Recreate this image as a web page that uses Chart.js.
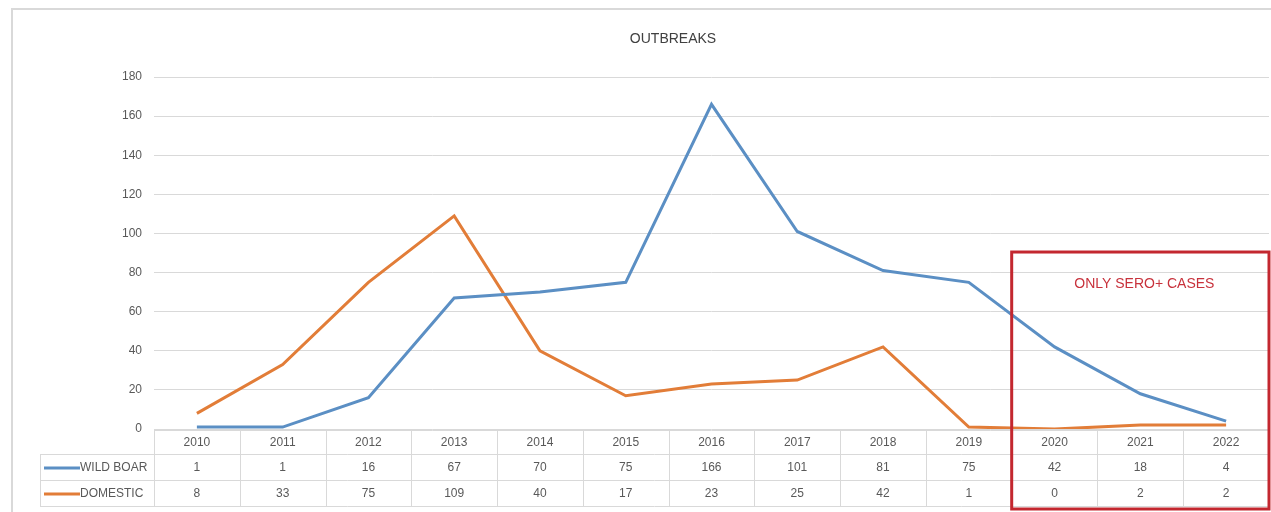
<!DOCTYPE html>
<html>
<head>
<meta charset="utf-8">
<title>Outbreaks</title>
<script src="https://cdn.jsdelivr.net/npm/chart.js@4/dist/chart.umd.min.js"></script>
<style>
    html, body { margin: 0; padding: 0; background: #fff; }
    #wrap { width: 1271px; height: 512px; position: relative; }
</style>
</head>
<body>
<div id="wrap"><canvas id="outbreaksChart"></canvas></div>
<script>
const years = ['2010', '2011', '2012', '2013', '2014', '2015', '2016', '2017', '2018', '2019', '2020', '2021', '2022'];
const wildBoar = [1, 1, 16, 67, 70, 75, 166, 101, 81, 75, 42, 18, 4];
const domestic = [8, 33, 75, 109, 40, 17, 23, 25, 42, 1, 0, 2, 2];
const seriesNames = ['WILD BOAR', 'DOMESTIC'];
const yMin = 0;
const yMax = 180;
const yStep = 20;
const chartTitle = 'OUTBREAKS';
const noteText = 'ONLY SERO+ CASES';
const noteFirstYear = '2020';

const BLUE = '#5b8fc4';
const ORANGE = '#e27d38';
const GRID = '#d9d9d9';
const TEXT = '#595959';
const RED = '#c3272f';
const FONT = "'Liberation Sans', Arial, sans-serif";

Chart.defaults.font.family = FONT;

// frame around the whole chart + title (excel puts it a bit left of the plot centre)
const framePlugin = {
    id: 'frame',
    beforeDraw(chart) {
        const ctx = chart.ctx;
        ctx.save();
        ctx.strokeStyle = GRID;
        ctx.lineWidth = 2;
        ctx.strokeRect(12, 9, chart.width + 20, chart.height + 20);
        ctx.fillStyle = '#404040';
        ctx.font = '14px ' + FONT;
        ctx.textAlign = 'center';
        ctx.textBaseline = 'middle';
        ctx.fillText(chartTitle, 673, 39);
        ctx.restore();
    }
};

// data table under the plot + the red "sero+" box
const tablePlugin = {
    id: 'dataTable',
    afterDraw(chart) {
        const ctx = chart.ctx;
        const area = chart.chartArea;
        const x = chart.scales.x;
        const y = chart.scales.y;
        const n = years.length;
        const colW = (area.right - area.left) / n;
        const top = area.bottom + 1;
        const rowTops = [top, top + 24, top + 50, top + 76];
        const legendLeft = 40;

        ctx.save();
        ctx.strokeStyle = GRID;
        ctx.lineWidth = 1;
        ctx.beginPath();
        ctx.moveTo(area.left, rowTops[0] + 0.5);
        ctx.lineTo(area.right, rowTops[0] + 0.5);
        for (let r = 1; r < rowTops.length; r++) {
            ctx.moveTo(legendLeft, rowTops[r] + 0.5);
            ctx.lineTo(area.right, rowTops[r] + 0.5);
        }
        ctx.moveTo(legendLeft + 0.5, rowTops[1]);
        ctx.lineTo(legendLeft + 0.5, rowTops[3]);
        for (let i = 0; i <= n; i++) {
            const bx = Math.round(area.left + i * colW) + 0.5;
            ctx.moveTo(bx, rowTops[0]);
            ctx.lineTo(bx, rowTops[3]);
        }
        ctx.stroke();

        ctx.fillStyle = TEXT;
        ctx.font = '12px ' + FONT;
        ctx.textAlign = 'center';
        ctx.textBaseline = 'middle';
        const rows = [years, wildBoar, domestic];
        rows.forEach((vals, r) => {
            const cy = (rowTops[r] + rowTops[r + 1]) / 2 + 1;
            vals.forEach((v, i) => {
                ctx.fillText(String(v), x.getPixelForValue(i), cy);
            });
        });

        // legend keys in the first column
        [BLUE, ORANGE].forEach((color, k) => {
            const cy = (rowTops[k + 1] + rowTops[k + 2]) / 2 + 1;
            ctx.strokeStyle = color;
            ctx.lineWidth = 3;
            ctx.beginPath();
            ctx.moveTo(44, cy);
            ctx.lineTo(80, cy);
            ctx.stroke();
            ctx.textAlign = 'left';
            ctx.fillStyle = TEXT;
            ctx.fillText(seriesNames[k], 80, cy);
        });

        // red box around the sero+ years
        const idx = years.indexOf(noteFirstYear);
        const boxLeft = x.getPixelForValue(idx) - colW / 2;
        const boxTop = y.getPixelForValue(90.5);
        const boxRight = chart.width - 2;
        const boxBottom = rowTops[3] + 3;
        ctx.strokeStyle = RED;
        ctx.lineWidth = 3;
        ctx.strokeRect(boxLeft, boxTop, boxRight - boxLeft, boxBottom - boxTop);
        ctx.fillStyle = '#c8323c';
        ctx.font = '14px ' + FONT;
        ctx.textAlign = 'center';
        ctx.fillText(noteText, (boxLeft + boxRight) / 2 + 4, boxTop + 32);
        ctx.restore();
    }
};

const ctx = document.getElementById('outbreaksChart').getContext('2d');
const outbreaksChart = new Chart(ctx, {
    type: 'line',
    data: {
        labels: years,
        datasets: [
            {
                label: seriesNames[0],
                data: wildBoar,
                borderColor: BLUE,
                backgroundColor: BLUE,
                borderWidth: 3,
                pointRadius: 0,
                tension: 0
            },
            {
                label: seriesNames[1],
                data: domestic,
                borderColor: ORANGE,
                backgroundColor: ORANGE,
                borderWidth: 3,
                pointRadius: 0,
                tension: 0
            }
        ]
    },
    options: {
        responsive: true,
        maintainAspectRatio: false,
        animation: false,
        layout: {
            padding: { top: 77, bottom: 83, left: 0, right: 2 }
        },
        plugins: {
            legend: { display: false },
            tooltip: { enabled: false },
            title: { display: false }
        },
        scales: {
            x: {
                type: 'category',
                offset: true,
                display: false,
                grid: { display: false }
            },
            y: {
                min: yMin,
                max: yMax,
                afterFit(scale) { scale.width = 154; },
                ticks: {
                    stepSize: yStep,
                    color: TEXT,
                    padding: 12,
                    font: { size: 12 }
                },
                grid: {
                    color: GRID,
                    drawTicks: false
                },
                border: { display: false }
            }
        }
    },
    plugins: [framePlugin, tablePlugin]
});
</script>
</body>
</html>
